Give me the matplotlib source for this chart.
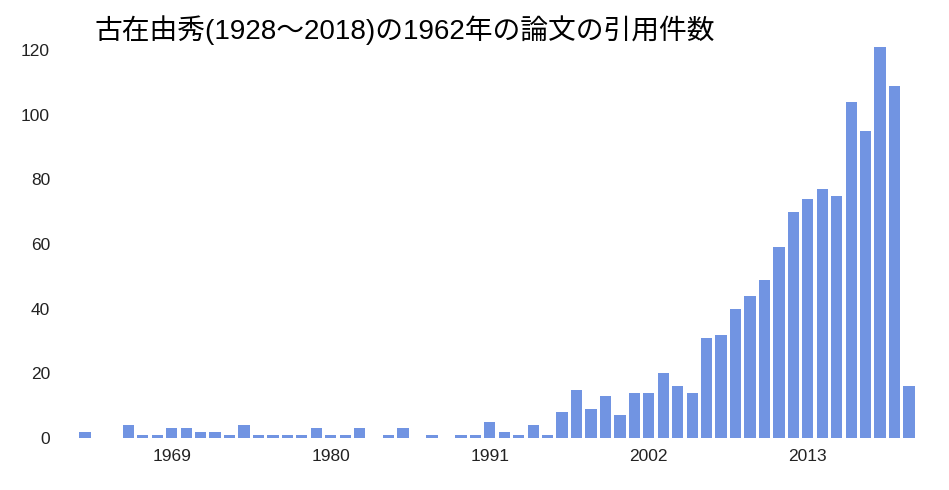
import matplotlib
matplotlib.use("Agg")
import matplotlib.pyplot as plt

plt.rcParams['font.family'] = ['Liberation Sans', 'Noto Sans CJK JP', 'DejaVu Sans']

years = list(range(1963, 2021))
citations = [2, 0, 0, 4, 1, 1, 3, 3, 2, 2, 1, 4, 1, 1, 1, 1, 3, 1, 1, 3,
             0, 1, 3, 0, 1, 0, 1, 1, 5, 2, 1, 4, 1, 8, 15, 9, 13, 7, 14, 14,
             20, 16, 14, 31, 32, 40, 44, 49, 59, 70, 74, 77, 75, 104, 95, 121, 109, 16]
tick_years = [1969, 1980, 1991, 2002, 2013]
yticks = [0, 20, 40, 60, 80, 100, 120]
title = "古在由秀(1928～2018)の1962年の論文の引用件数"

fig = plt.figure(figsize=(9.49, 4.9), dpi=100)
ax = fig.add_axes([75 / 949, 52 / 490, 843 / 949, 433 / 490])
ax.bar(years, citations, width=0.78, color="#7194e2")
ax.set_xlim(1962.31, 2020.62)
ax.set_ylim(0, 134)
ax.set_xticks(tick_years)
ax.set_yticks(yticks)
ax.tick_params(length=0, labelsize=12.5, colors="#222222")
ax.tick_params(axis="y", pad=18)
ax.tick_params(axis="x", pad=8)
for s in ax.spines.values():
    s.set_visible(False)
fig.text(95 / 949, 1 - 30 / 490, title, fontsize=20, va="center", ha="left")
fig.savefig("out.png", dpi=100)
